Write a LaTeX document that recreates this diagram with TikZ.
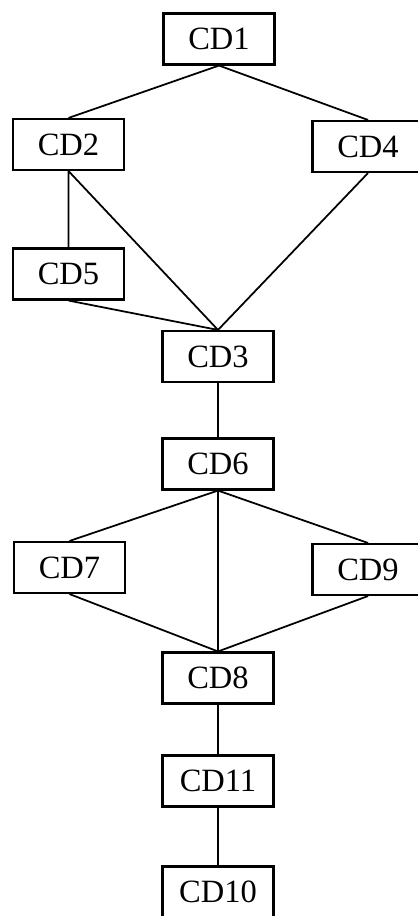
\documentclass[tikz,border=0pt]{standalone}
\usepackage{fontspec}
\setmainfont{Liberation Serif}
\usetikzlibrary{positioning}

\begin{document}
\begin{tikzpicture}[
x=0.02cm, y=-0.02cm,
cdbox/.style = {draw, line width=1.2pt, inner sep=0pt,
                minimum width=2.22cm, minimum height=1.02cm,
                font=\fontsize{18.5}{20}\selectfont},
link/.style  = {line width=1pt},
                    ]
\useasboundingbox (0,0) rectangle (418,916);
%---
\node[cdbox] (cd1)  at (219, 39)    {CD1};
\node[cdbox] (cd2)  at (68.5, 144.5) {CD2};
\node[cdbox] (cd4)  at (368, 146.5) {CD4};
\node[cdbox] (cd5)  at (68.5, 274)  {CD5};
\node[cdbox] (cd3)  at (218, 356.5) {CD3};
%
\node[cdbox] (cd6)  at (218, 464)   {CD6};
\node[cdbox] (cd7)  at (69.5, 567.5) {CD7};
\node[cdbox] (cd9)  at (368, 569.5) {CD9};
\node[cdbox] (cd8)  at (218, 678)   {CD8};
\node[cdbox] (cd11) at (218, 781)   {CD11};
\node[cdbox] (cd10) at (218, 892)   {CD10};
% edges
\draw[link] (cd1.south) -- (cd2.north)
            (cd1.south) -- (cd4.north)
            (cd2.south) -- (cd5.north)
            (cd2.south) -- (cd3.north)
            (cd5.south) -- (cd3.north)
            (cd4.south) -- (cd3.north)
            (cd3.south) -- (cd6.north);
%---
\draw[link] (cd6.south) -- (cd7.north)
            (cd6.south) -- (cd9.north)
            (cd6.south) -- (cd8.north)
            (cd7.south) -- (cd8.north)
            (cd9.south) -- (cd8.north)
            (cd8.south) -- (cd11.north)
            (cd11.south) -- (cd10.north);
\end{tikzpicture}
\end{document}
